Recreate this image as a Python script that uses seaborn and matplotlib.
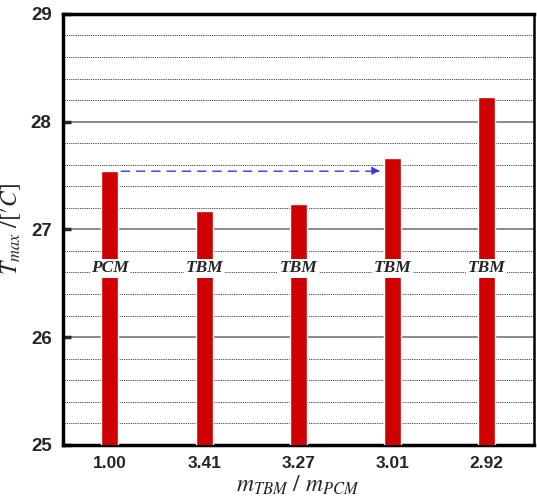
import pandas as pd
import matplotlib.pyplot as plt
import seaborn as sns
from matplotlib.ticker import MultipleLocator

# Data
ratios = ["1.00", "3.41", "3.27", "3.01", "2.92"]
t_max = [27.54, 27.17, 27.24, 27.66, 28.23]
kinds = ["PCM", "TBM", "TBM", "TBM", "TBM"]

df = pd.DataFrame({"ratio": ratios, "Tmax": t_max, "kind": kinds})

sns.set_theme(style="white")
plt.rcParams["font.family"] = ["Liberation Sans", "DejaVu Sans"]
plt.rcParams["mathtext.fontset"] = "stix"

fig = plt.figure(figsize=(5.37, 4.97), dpi=100)
ax = fig.add_axes([0.117, 0.105, 0.877, 0.867])

sns.barplot(x="ratio", y="Tmax", data=df, color="#d00000", width=0.18,
            saturation=1, ax=ax, zorder=3)

ax.set_ylim(25, 29)
ax.set_xlim(-0.5, 4.5)
ax.yaxis.set_major_locator(MultipleLocator(1))
ax.yaxis.set_minor_locator(MultipleLocator(0.2))
ax.grid(which="major", axis="y", color="#777777", linewidth=1.2, zorder=0)
ax.grid(which="minor", axis="y", color="black", linestyle=(0, (1, 1.2)),
        linewidth=0.6, zorder=0)

ax.tick_params(axis="y", which="major", direction="in", length=6, width=2.5,
               left=True, labelsize=13.5, pad=8)
ax.tick_params(axis="y", which="minor", left=False)
ax.tick_params(axis="x", length=0, labelsize=12.5, pad=8)
for lab in ax.get_yticklabels() + ax.get_xticklabels():
    lab.set_fontweight("bold")

for side in ["left", "bottom", "top"]:
    ax.spines[side].set_linewidth(2.5)
    ax.spines[side].set_color("black")
ax.spines["right"].set_linewidth(1.8)
ax.spines["right"].set_color("black")

ax.set_xlabel(r"$m_{TBM}\ /\ m_{PCM}$", fontsize=17, labelpad=2)
ax.set_ylabel(r"$T_{max}\ /[\prime C]$", fontsize=17, labelpad=6)

# type labels on the bars
for i, k in enumerate(kinds):
    ax.text(i, 26.64, k, ha="center", va="center", fontsize=12.5,
            family="Liberation Serif", fontweight="bold", style="italic",
            bbox=dict(facecolor="white", edgecolor="none", pad=1), zorder=5)

# dashed arrow from PCM bar to the 3.01 bar
ax.annotate("", xy=(3 - 0.1, t_max[0]), xytext=(0 + 0.09, t_max[0]),
            arrowprops=dict(arrowstyle="-|>", color="#3333ee", linestyle=(0, (6, 5)),
                            linewidth=1, mutation_scale=12), zorder=6)

plt.savefig("out.png", dpi=100)
